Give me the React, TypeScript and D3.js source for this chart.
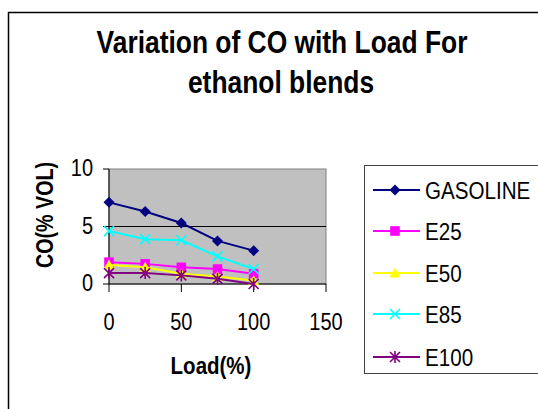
import React from "react";
import * as d3 from "d3";

const loads = [0, 25, 50, 75, 100];
const seriesNames = ["GASOLINE", "E25", "E50", "E85", "E100"];
const gasoline = [7.1, 6.3, 5.3, 3.75, 2.9];
const e25 = [1.9, 1.75, 1.45, 1.3, 0.9];
const e50 = [1.65, 1.45, 0.9, 0.65, 0.3];
const e85 = [4.6, 3.9, 3.8, 2.4, 1.3];
const e100 = [0.95, 0.95, 0.75, 0.45, 0.0];
const xTicks = [0, 50, 100, 150];
const yTicks = [0, 5, 10];
const titleLines = ["Variation of CO with Load For", "ethanol blends"];
const xLabel = "Load(%)";
const yLabel = "CO(% VOL)";

const colors = ["#000080", "#FF00FF", "#FFFF00", "#00FFFF", "#800080"];
const markers = ["diamond", "square", "triangle", "x", "star"];
const allValues = [gasoline, e25, e50, e85, e100];

const FONT = "Arial, 'Liberation Sans', sans-serif";
const SY = 1.2;

function T({ x, y, size, bold, anchor, children, rotate }: any) {
  const tr = rotate
    ? `translate(${x},${y}) rotate(${rotate}) scale(1,${SY})`
    : `translate(${x},${y}) scale(1,${SY})`;
  return (
    <text
      transform={tr}
      fontFamily={FONT}
      fontSize={size}
      fontWeight={bold ? "bold" : "normal"}
      textAnchor={anchor || "start"}
      fill="#000"
    >
      {children}
    </text>
  );
}

function Marker({ type, x, y, color }: any) {
  if (type === "diamond") {
    const r = 5.5;
    return <path d={`M${x},${y - r}L${x + r},${y}L${x},${y + r}L${x - r},${y}Z`} fill={color} />;
  }
  if (type === "square") {
    const r = 4.8;
    return <rect x={x - r} y={y - r} width={2 * r} height={2 * r} fill={color} />;
  }
  if (type === "triangle") {
    const r = 5.5;
    return <path d={`M${x},${y - r}L${x + r},${y + r * 0.8}L${x - r},${y + r * 0.8}Z`} fill={color} />;
  }
  if (type === "x") {
    const r = 5;
    return (
      <path
        d={`M${x - r},${y - r}L${x + r},${y + r}M${x - r},${y + r}L${x + r},${y - r}`}
        stroke={color}
        strokeWidth={1.6}
      />
    );
  }
  const r = 5;
  return (
    <path
      d={`M${x - r},${y - r}L${x + r},${y + r}M${x - r},${y + r}L${x + r},${y - r}M${x},${y - r - 1}L${x},${y + r + 1}`}
      stroke={color}
      strokeWidth={1.6}
    />
  );
}

export default function App() {
  const W = 538;
  const H = 409;
  const left = 109;
  const right = 326;
  const top = 169;
  const bottom = 284;
  const x = d3.scaleLinear().domain([0, 150]).range([left, right]);
  const y = d3.scaleLinear().domain([0, 10]).range([bottom, top]);
  const line = d3
    .line<number>()
    .x((_, i) => x(loads[i]))
    .y((d) => y(d));

  const legX = 364;
  const legY = 165;
  const rowY = [190, 231, 273, 314, 357];

  return (
    <svg
      width={W}
      height={H}
      style={{ position: "absolute", left: 0, top: 0 }}
      viewBox={`0 0 ${W} ${H}`}
    >
      <rect x={0} y={0} width={W} height={H} fill="#fff" />
      <rect x={8.5} y={12.5} width={W + 10} height={H + 10} fill="none" stroke="#000" strokeWidth={1.5} />

      <T x={282} y={53} size={26.4} bold anchor="middle">{titleLines[0]}</T>
      <T x={281} y={93} size={26.4} bold anchor="middle">{titleLines[1]}</T>

      <rect x={left} y={top} width={right - left} height={bottom - top} fill="#C0C0C0" stroke="#808080" strokeWidth={1} />
      {yTicks
        .filter((t) => t > 0 && t < 10)
        .map((t) => (
          <line key={t} x1={left} x2={right} y1={y(t)} y2={y(t)} stroke="#000" strokeWidth={1} />
        ))}
      <line x1={left} x2={left} y1={top} y2={bottom} stroke="#000" strokeWidth={1} />
      <line x1={left} x2={right} y1={bottom} y2={bottom} stroke="#000" strokeWidth={1} />
      {yTicks.map((t) => (
        <g key={"y" + t}>
          <line x1={left - 6} x2={left} y1={y(t)} y2={y(t)} stroke="#000" />
          <T x={93} y={y(t) + 7} size={20} anchor="end">{String(t)}</T>
        </g>
      ))}
      {xTicks.map((t) => (
        <g key={"x" + t}>
          <line x1={x(t)} x2={x(t)} y1={bottom} y2={bottom + 8} stroke="#000" />
          <T x={x(t)} y={330} size={20} anchor="middle">{String(t)}</T>
        </g>
      ))}

      {allValues.map((vals, si) => (
        <g key={"s" + si}>
          <path d={line(vals) || ""} fill="none" stroke={colors[si]} strokeWidth={2} />
          {vals.map((v, i) => (
            <Marker key={i} type={markers[si]} x={x(loads[i])} y={y(v)} color={colors[si]} />
          ))}
        </g>
      ))}

      <T x={211} y={374} size={20.5} bold anchor="middle">{xLabel}</T>
      <T x={53} y={215} size={19.7} bold anchor="middle" rotate={-90}>{yLabel}</T>

      <rect x={legX + 0.5} y={legY + 0.5} width={200} height={208} fill="#fff" stroke="#404040" strokeWidth={1} />
      {seriesNames.map((n, i) => (
        <g key={n}>
          <line x1={373} x2={420} y1={rowY[i]} y2={rowY[i]} stroke={colors[i]} strokeWidth={2} />
          <Marker type={markers[i]} x={395} y={rowY[i]} color={colors[i]} />
          <T x={425} y={rowY[i] + 9} size={20.6}>{n}</T>
        </g>
      ))}
    </svg>
  );
}
